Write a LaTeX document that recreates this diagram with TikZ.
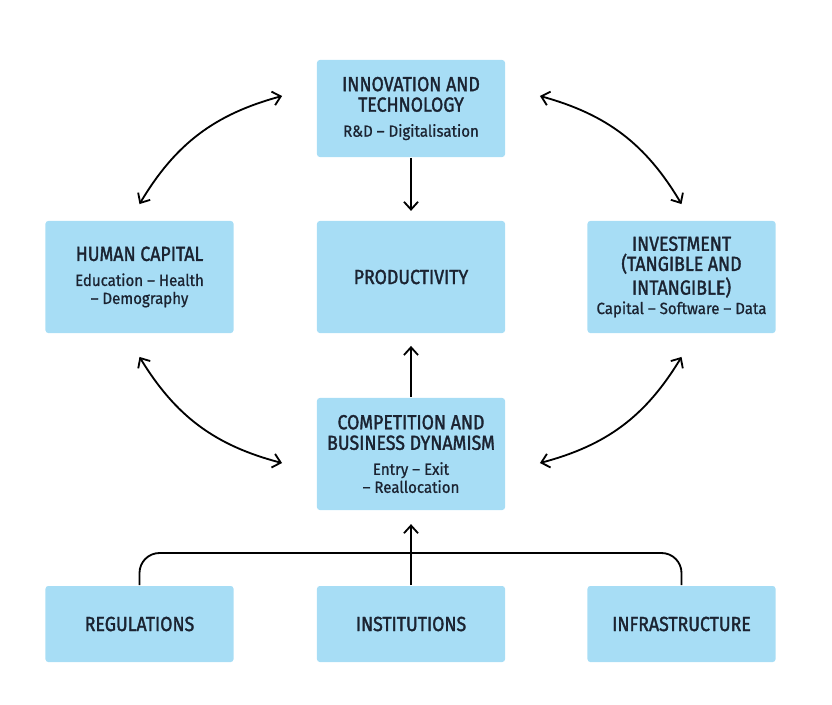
\documentclass[tikz,border=0pt]{standalone}
\usepackage{fontspec}
\setmainfont{Fira Sans}
\newfontfamily\titlefont[Ligatures=TeX, FakeBold=1.6, FakeStretch=0.87]{Fira Sans}
\newfontfamily\subfont[Ligatures=TeX, FakeBold=0.8, FakeStretch=0.93]{Fira Sans}
\usetikzlibrary{arrows.meta,calc}
\definecolor{boxblue}{HTML}{A7DDF5}
\definecolor{ink}{HTML}{1B2331}
\newcommand{\ttl}{\titlefont\fontsize{14.5}{12.8}\selectfont}
\newcommand{\sub}{\subfont\fontsize{11.5}{12.8}\selectfont}

\begin{document}
\begin{tikzpicture}[x = 0.025cm, y = -0.025cm, line width = 1.3pt,
                        >={Straight Barb[length=5.5pt, width=10pt]},
                        factor/.style = {rectangle, fill = boxblue, rounded corners = 2pt, text = ink, font = \ttl,
                                         align = center, minimum width = 4.7cm, minimum height = 2.8cm, inner sep = 0pt},
                        low/.style = {factor, minimum height = 1.9cm},
                        twoway/.style = {<->, bend angle = 22}]
      \useasboundingbox (0, 0) rectangle (832, 704);
      \node [factor, minimum height = 2.425cm] (inno) at (411, 108.5)
            {INNOVATION AND\\[1.8pt]TECHNOLOGY\\[5pt]\sub R\&D -- Digitalisation};
      \node [factor] (human) at (139.5, 277)
            {HUMAN CAPITAL\\[5pt]\sub Education -- Health\\\sub -- Demography};
      \node [factor] (prod) at (411, 277) {PRODUCTIVITY};
      \node [factor] (invest) at (681.5, 277)
            {INVESTMENT\\[1.5pt](TANGIBLE AND\\[1.5pt]INTANGIBLE)\\[1pt]\sub Capital -- Software -- Data};
      \node [factor] (comp) at (411, 454)
            {COMPETITION AND\\[1.8pt]BUSINESS DYNAMISM\\[5pt]\sub Entry -- Exit\\\sub -- Reallocation};
      \node [low] (reg) at (139.5, 624) {REGULATIONS};
      \node [low] (inst) at (411, 624) {INSTITUTIONS};
      \node [low] (infra) at (681.5, 624) {INFRASTRUCTURE};
      \coordinate (bar) at (411, 553);
      \coordinate (tl1) at ($(inno.west) + (-34, -12.5)$);
      \coordinate (tl2) at ($(human.north) + (0, -16)$);
      \coordinate (tr1) at ($(inno.east) + (34, -12.5)$);
      \coordinate (tr2) at ($(invest.north) + (0, -16)$);
      \coordinate (bl1) at ($(human.south) + (0, 23)$);
      \coordinate (bl2) at ($(comp.west) + (-34, 9)$);
      \coordinate (br1) at ($(invest.south) + (0, 23)$);
      \coordinate (br2) at ($(comp.east) + (34, 9)$);
      \draw [->, shorten >= 0.23cm] (inno) -- (prod);
      \draw [->, shorten >= 0.3cm] (comp) -- (prod);
      \draw [->, shorten >= 0.33cm] (inst) -- (comp);
      \draw [rounded corners = 0.5cm] (reg.north) |- (bar) -| (infra.north);
      \draw [twoway] (tl1) to [bend right] (tl2);
      \draw [twoway] (tr1) to [bend left] (tr2);
      \draw [twoway] (bl1) to [bend right] (bl2);
      \draw [twoway] (br1) to [bend left] (br2);
    \end{tikzpicture}
\end{document}
